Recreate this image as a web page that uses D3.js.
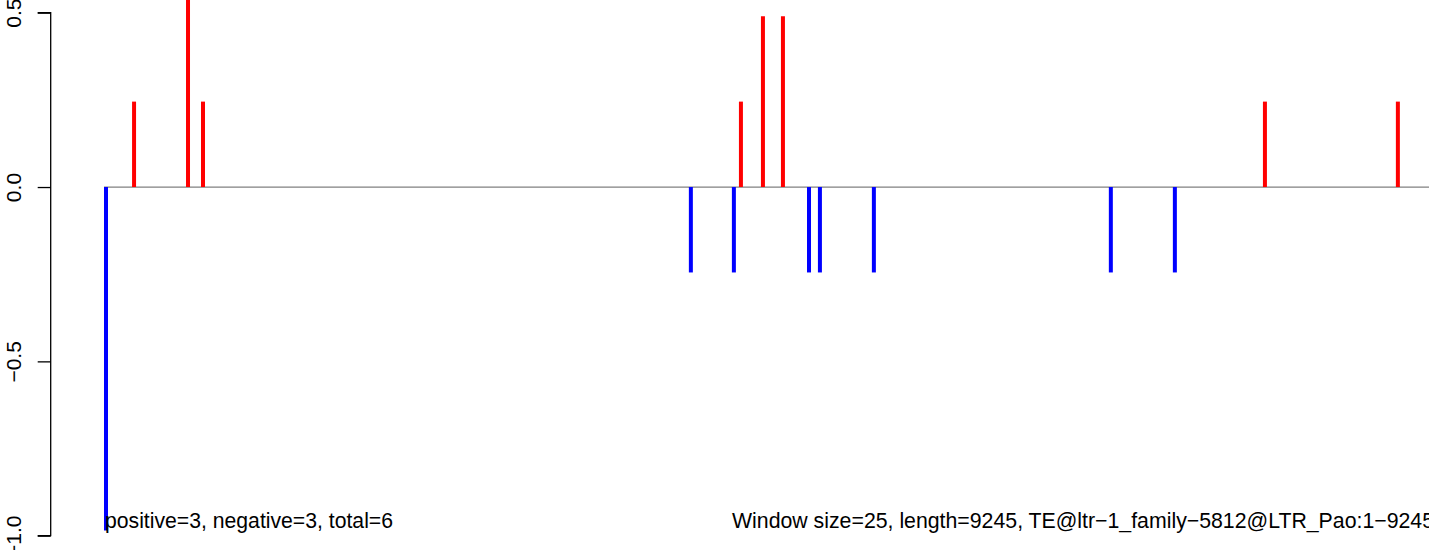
<!DOCTYPE html>
<html>
<head>
<meta charset="utf-8">
<script src="https://cdn.jsdelivr.net/npm/d3@7"></script>
<style>
  html, body { margin: 0; padding: 0; background: #fff; overflow: hidden; }
  svg { display: block; }
  text { font-family: "Liberation Sans", Arial, Helvetica, sans-serif; }
</style>
</head>
<body>
<svg id="chart" width="1429" height="550"></svg>
<script>
// ---- data ----
const seqLength = 9245;
const windowSize = 25;
const teName = "TE@ltr\u22121_family\u22125812@LTR_Pao:1\u22129245";
const positivePos = [196, 571, 675, 4414, 4567, 4706, 8056, 8980];
const positiveVal = [0.245, 0.98, 0.245, 0.245, 0.49, 0.49, 0.245, 0.245];
const negativePos = [1, 4066, 4365, 4887, 4963, 5338, 6985, 7430];
const negativeVal = [-0.985, -0.245, -0.245, -0.245, -0.245, -0.245, -0.245, -0.245];
const yTicks = [-1.0, -0.5, 0.0, 0.5];
const nPositive = 3, nNegative = 3, nTotal = 6;

// ---- layout ----
const W = 1429, H = 550;
const svg = d3.select("#chart");
const x = d3.scaleLinear().domain([1, seqLength]).range([106, 1436]);
const y = d3.scaleLinear().domain([-1, 0.5]).range([535.7, 12.7]);

// y axis
const fmt = v => (v < 0 ? "\u2212" : "") + Math.abs(v).toFixed(1);
const yAxis = d3.axisLeft(y).tickValues(yTicks).tickSize(13).tickFormat(fmt);
const ag = svg.append("g").attr("transform", "translate(50.7,0)").call(yAxis);
ag.select(".domain").attr("stroke", "#000").attr("stroke-width", 1.3)
  .attr("d", `M-13,${y(0.5)}H0V${y(-1)}H-13`);
ag.selectAll(".tick line").attr("stroke", "#000").attr("stroke-width", 1.3);
ag.selectAll(".tick text")
  .attr("font-size", 21)
  .attr("fill", "#000")
  .attr("text-anchor", "middle")
  .attr("x", null).attr("dy", null)
  .attr("transform", "translate(-29.5,0) rotate(-90)");

// baseline
svg.append("line")
  .attr("x1", x(1) - 2).attr("x2", W + 10)
  .attr("y1", y(0)).attr("y2", y(0))
  .attr("stroke", "#808080").attr("stroke-width", 1.3);

// bars
const pos = positivePos.map((p, i) => ({p, v: positiveVal[i]}));
const neg = negativePos.map((p, i) => ({p, v: negativeVal[i]}));
svg.append("g").selectAll("line").data(neg).join("line")
  .attr("x1", d => x(d.p)).attr("x2", d => x(d.p))
  .attr("y1", y(0)).attr("y2", d => y(d.v))
  .attr("stroke", "#0000FF").attr("stroke-width", 4);
svg.append("g").selectAll("line").data(pos).join("line")
  .attr("x1", d => x(d.p)).attr("x2", d => x(d.p))
  .attr("y1", y(0)).attr("y2", d => y(d.v))
  .attr("stroke", "#FF0000").attr("stroke-width", 4);

// annotations
svg.append("text")
  .attr("x", x(1) - 1).attr("y", 527.5)
  .attr("font-size", 21.2).attr("fill", "#000")
  .text(`positive=${nPositive}, negative=${nNegative}, total=${nTotal}`);
svg.append("text")
  .attr("x", 732).attr("y", 527.5)
  .attr("font-size", 21.2).attr("fill", "#000")
  .attr("textLength", 702).attr("lengthAdjust", "spacingAndGlyphs")
  .text(`Window size=${windowSize}, length=${seqLength}, ${teName}`);
</script>
</body>
</html>
